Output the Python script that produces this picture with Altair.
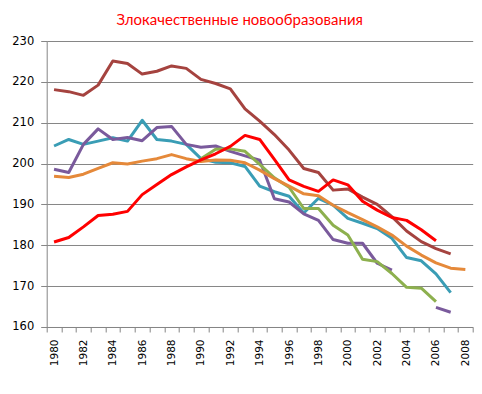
import altair as alt
import pandas as pd

years = list(range(1980, 2009))

red = [180.8, 181.9, 184.5, 187.3, 187.6, 188.3, 192.4, 194.9, 197.3, 199.2,
       200.9, 202.4, 204.2, 206.9, 205.9, 201.0, 196.0, 194.4, 193.2, 196.0,
       194.8, 190.8, 188.6, 186.8, 186.1, 183.8, 181.1, None, None]
brown = [218.1, 217.6, 216.7, 219.2, 225.1, 224.5, 221.9, 222.6, 223.9, 223.3,
         220.6, 219.6, 218.3, 213.4, 210.4, 207.1, 203.3, 198.8, 197.8, 193.5,
         193.8, 191.8, 190.0, 187.0, 183.5, 180.9, 179.2, 177.9, None]
teal = [204.3, 205.9, 204.7, 205.5, 206.3, 205.5, 210.6, 205.9, 205.5, 204.7,
        201.2, 200.3, 200.2, 199.3, 194.5, 193.1, 192.0, 187.9, 191.5, 189.8,
        186.6, 185.4, 184.1, 181.7, 177.0, 176.2, 173.0, 168.4, None]
purple = [198.6, 197.8, 204.7, 208.5, 205.9, 206.4, 205.6, 208.8, 209.1, 204.7,
          204.0, 204.3, 203.0, 201.9, 200.8, 191.4, 190.6, 187.7, 186.1, 181.4,
          180.5, 180.5, 175.6, 173.9, None, None, 164.8, 163.6, None]
orange = [196.9, 196.6, 197.4, 198.8, 200.2, 199.9, 200.6, 201.2, 202.2, 201.2,
          200.5, 200.9, 200.8, 200.2, 198.4, 196.3, 194.5, 192.6, 192.1, 189.8,
          188.0, 186.3, 184.5, 182.5, 179.8, 177.6, 175.7, 174.4, 174.1]
green = [None, None, None, None, None, None, None, None, None, None,
         201.2, 203.5, 203.6, 203.0, 199.8, 196.5, 194.2, 189.0, 189.0, 184.9,
         182.5, 176.6, 176.0, 173.1, 169.7, 169.5, 166.2, None, None]

series_names = ["brown", "teal", "purple", "green", "orange", "red"]
series_values = [brown, teal, purple, green, orange, red]
series_colors = ["#A5433F", "#3A9DB5", "#7A5A9C", "#8DB04E", "#E5893A", "#FF0000"]

title_text = "Злокачественные новообразования"
y_ticks = [160, 170, 180, 190, 200, 210, 220, 230]

rows = []
for si, (name, vals) in enumerate(zip(series_names, series_values)):
    seg = 0
    prev_none = False
    for yr, v in zip(years, vals):
        if v is None:
            prev_none = True
            continue
        if prev_none and any(r["series"] == name for r in rows):
            seg += 1
        prev_none = False
        rows.append({"year": yr, "value": v, "series": name,
                     "seg": f"{si}_{name}_{seg}"})
df = pd.DataFrame(rows)

half_years = [y - 0.5 for y in years] + [years[-1] + 0.5]
grid_col = "#868686"
W, H = 426, 286

chart = alt.Chart(df).mark_line(strokeWidth=3, strokeJoin="round").encode(
    x=alt.X("year:Q",
            scale=alt.Scale(domain=[years[0] - 0.5, years[-1] + 0.5], nice=False, zero=False),
            axis=alt.Axis(values=half_years, title=None, grid=False,
                          tickSize=5, tickColor=grid_col, domainColor=grid_col,
                          labelExpr="(datum.value + 0.5) % 2 == 0 ? toString(datum.value + 0.5) : ''",
                          labelOffset=W / len(years) / 2,
                          labelAngle=270, labelAlign="right", labelBaseline="middle",
                          labelFont="DejaVu Sans", labelFontSize=10.5, labelColor="#000000",
                          labelPadding=7, labelOverlap=False, labelFlush=False, labelBound=False)),
    y=alt.Y("value:Q",
            scale=alt.Scale(domain=[160, 230], nice=False, zero=False),
            axis=alt.Axis(values=y_ticks, title=None, grid=True, gridColor=grid_col,
                          gridWidth=1, tickSize=6, tickColor=grid_col, domainColor=grid_col,
                          labelFont="DejaVu Sans", labelFontSize=11.5, labelColor="#000000",
                          labelPadding=7)),
    color=alt.Color("series:N", scale=alt.Scale(domain=series_names, range=series_colors),
                    legend=None),
    detail="seg:N",
    order=alt.Order("year:Q"),
).properties(
    width=W, height=H,
    title=alt.TitleParams(title_text, color="#FF0000", font="Lato", fontSize=15,
                          fontWeight="normal", anchor="middle", dx=-20, offset=7),
    autosize=alt.AutoSizeParams(type="none"),
    padding={"left": 38.7, "top": 33, "right": 1, "bottom": 50},
).configure_view(stroke=None)

chart.save("out.html", embed_options={"renderer": "svg", "actions": False})
